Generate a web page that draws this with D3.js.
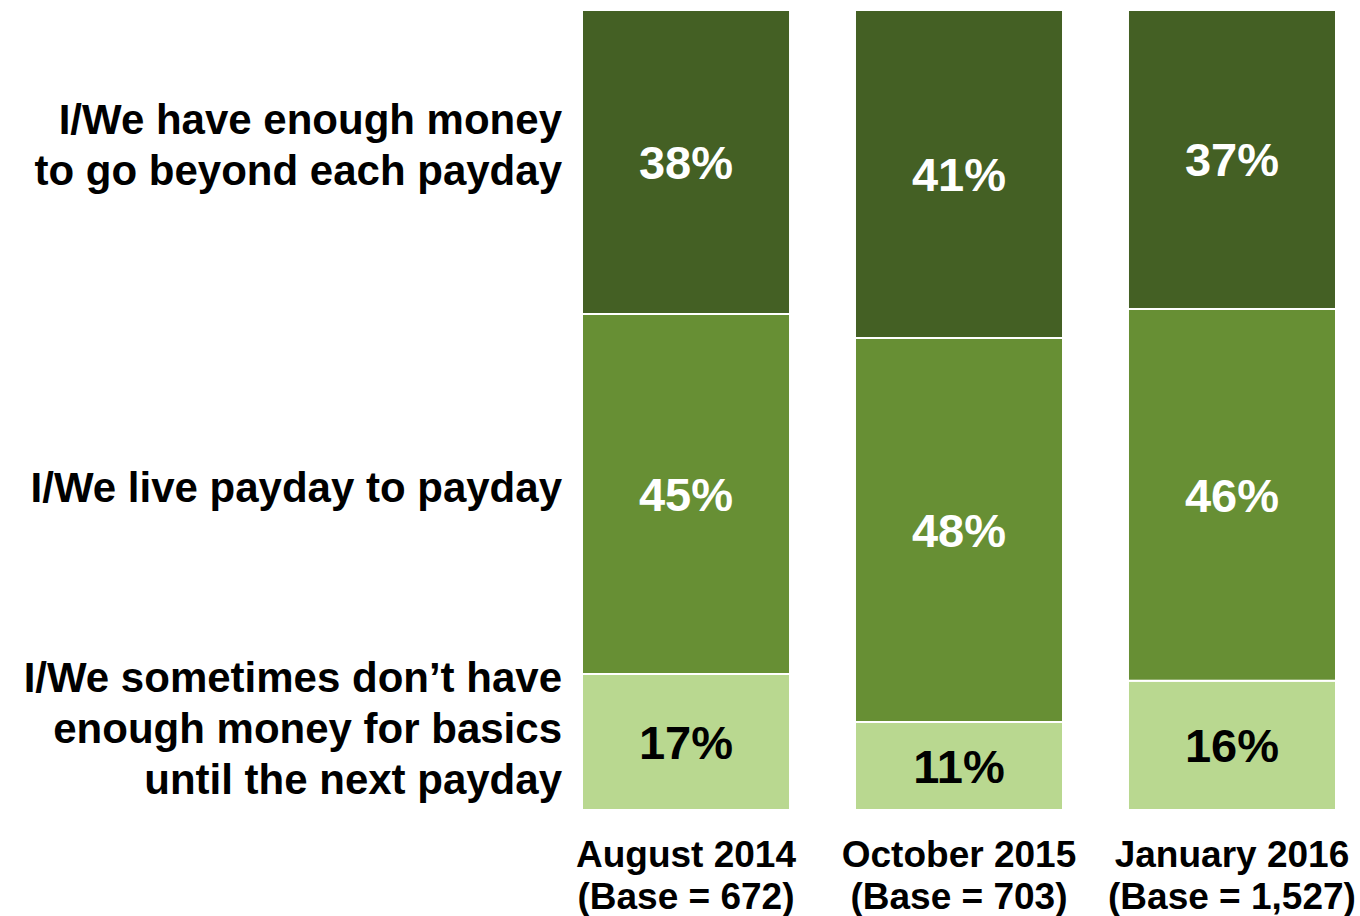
<!DOCTYPE html>
<html><head><meta charset="utf-8">
<script src="https://cdn.jsdelivr.net/npm/d3@7"></script>
<style>body{margin:0;background:#fff}svg text{font-family:"Liberation Sans",Arial,sans-serif;font-weight:bold}</style>
</head><body>
<svg id="c" width="1360" height="916"></svg>
<script>
const periods = ["August 2014", "October 2015", "January 2016"];
const bases = ["(Base = 672)", "(Base = 703)", "(Base = 1,527)"];
const seriesNames = ["I/We sometimes don’t have enough money for basics until the next payday", "I/We live payday to payday", "I/We have enough money to go beyond each payday"];
const basicsShort = [17, 11, 16];
const paydayToPayday = [45, 48, 46];
const beyondPayday = [38, 41, 37];
const colors = ["#b9d890", "#678f34", "#446024"];
const textColors = ["#000", "#fff", "#fff"];
const catLabelLines = [
  ["I/We sometimes don’t have", "enough money for basics", "until the next payday"],
  ["I/We live payday to payday"],
  ["I/We have enough money", "to go beyond each payday"]
];
const catLabelY = [692, 502, 134];

const svg = d3.select("#c");
const x = d3.scaleBand().domain(periods).range([582, 1336]).paddingInner(0.238).paddingOuter(0);
const data = periods.map((p, i) => ({period: p, vals: [basicsShort[i], paydayToPayday[i], beyondPayday[i]]}));
const stack = d3.stack().keys([0,1,2]).value((d,k)=>d.vals[k]/d3.sum(d.vals)*100);
const series = stack(data);
const y = d3.scaleLinear().domain([0, 100]).range([810, 10]);

const g = svg.append("g");
series.forEach((s, k) => {
  g.selectAll(null).data(s).enter().append("rect")
    .attr("x", d => x(d.data.period))
    .attr("width", x.bandwidth())
    .attr("y", d => y(d[1]))
    .attr("height", d => y(d[0]) - y(d[1]))
    .attr("fill", colors[k])
    .attr("stroke", "#fff").attr("stroke-width", 2);
  g.selectAll(null).data(s).enter().append("text")
    .attr("x", d => x(d.data.period) + x.bandwidth()/2)
    .attr("y", d => (y(d[0]) + y(d[1]))/2 + 17)
    .attr("text-anchor", "middle")
    .attr("font-size", 47)
    .attr("fill", textColors[k])
    .text(d => d.data.vals[k] + "%");
});

catLabelLines.forEach((lines, k) => {
  const t = svg.append("text").attr("text-anchor", "end").attr("font-size", 42).attr("fill", "#000");
  lines.forEach((l, j) => t.append("tspan").attr("x", 562).attr("y", catLabelY[k] + j*51).text(l));
});

periods.forEach((p, i) => {
  const cx = x(p) + x.bandwidth()/2;
  const t = svg.append("text").attr("text-anchor", "middle").attr("font-size", 37).attr("fill", "#000");
  t.append("tspan").attr("x", cx).attr("y", 867).text(p);
  t.append("tspan").attr("x", cx).attr("y", 909).text(bases[i]);
});
</script>
</body></html>
